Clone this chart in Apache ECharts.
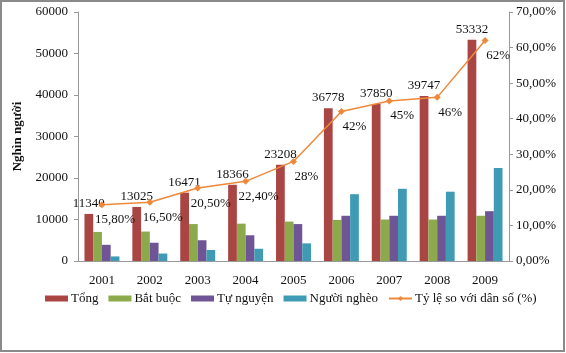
<!DOCTYPE html>
<html>
<head>
<meta charset="utf-8">
<script src="https://cdn.jsdelivr.net/npm/echarts@6/dist/echarts.min.js"></script>
<style>
html,body{margin:0;padding:0;background:#fff;}
#chart{width:566px;height:353px;}
</style>
</head>
<body>
<div id="chart"></div>
<script>
// năm
var years = ['2001','2002','2003','2004','2005','2006','2007','2008','2009'];
// số người tham gia (nghìn người)
var tong = [11340,13025,16471,18366,23208,36778,37850,39747,53332];
var batBuoc = [7000,7100,8900,9000,9500,9900,10000,10000,10900];
var tuNguyen = [3900,4400,5000,6200,8900,10900,10900,10900,12000];
var nguoiNgheo = [1100,1800,2650,2950,4250,16100,17400,16700,22400];
// tỷ lệ so với dân số (%)
var tyLe = [15.8,16.5,20.5,22.4,28,42,45,46,62];
var tyLeText = ['15,80%','16,50%','20,50%','22,40%','28%','42%','45%','46%','62%'];

var font = 'Liberation Serif';

function barSerie(name, data, color){
	return {
		name: name,
		type: 'bar',
		yAxisIndex: 0,
		data: data,
		barGap: '0%',
		barCategoryGap: '27%',
		itemStyle: {color: color}
	};
}

var series = [
	barSerie('Tổng', tong, '#A94543'),
	barSerie('Bắt buộc', batBuoc, '#8CAA4C'),
	barSerie('Tự nguyện', tuNguyen, '#6F5596'),
	barSerie('Người nghèo', nguoiNgheo, '#3F9BB4'),
	{
		name: 'Tỷ lệ so với dân số (%)',
		type: 'line',
		yAxisIndex: 1,
		data: tyLe,
		symbol: 'diamond',
		symbolSize: 7,
		z: 5,
		lineStyle: {color: '#F0883A', width: 1.5},
		itemStyle: {color: '#F0883A'},
		label: {
			show: true,
			position: 'bottom',
			distance: 5,
			offset: [13, 0],
			fontFamily: font, fontSize: 13, color: '#111',
			formatter: function(p){ return tyLeText[p.dataIndex]; }
		}
	}
];
series[0].label = {show: true, position: 'top', distance: 4, fontFamily: font, fontSize: 13, color: '#111'};

var myChart = echarts.init(document.getElementById('chart'));
myChart.setOption({
	backgroundColor: '#fff',
	animation: false,
	grid: {left: 78, right: 57, top: 12, bottom: 92},
	graphic: [{
		type: 'rect',
		shape: {x: 1, y: 1, width: 563, height: 350},
		style: {fill: 'none', stroke: '#8a8a8a', lineWidth: 2}
	}],
	legend: {
		bottom: 43,
		left: 40,
		itemGap: 10,
		itemWidth: 23,
		itemHeight: 6,
		textStyle: {fontFamily: font, fontSize: 13, color: '#111', padding: [0, 0, 0, -2]},
		data: [
			{name: 'Tổng', icon: 'rect'},
			{name: 'Bắt buộc', icon: 'rect'},
			{name: 'Tự nguyện', icon: 'rect'},
			{name: 'Người nghèo', icon: 'rect'},
			{name: 'Tỷ lệ so với dân số (%)'}
		]
	},
	xAxis: {
		type: 'category',
		data: years,
		axisLine: {lineStyle: {color: '#999'}},
		axisTick: {show: false},
		axisLabel: {fontFamily: font, fontSize: 13, color: '#111', margin: 13}
	},
	yAxis: [{
		type: 'value',
		min: 0, max: 60000, interval: 10000,
		name: 'Nghìn người',
		nameLocation: 'middle',
		nameGap: 46,
		nameTextStyle: {fontFamily: font, fontSize: 13, fontWeight: 'bold', color: '#111'},
		axisLine: {show: true, lineStyle: {color: '#999'}},
		axisTick: {show: true, length: 4, lineStyle: {color: '#999'}},
		splitLine: {show: false},
		axisLabel: {
			fontFamily: font, fontSize: 13, color: '#111', margin: 10,
			formatter: function(v){ return String(v); }
		}
	}, {
		type: 'value',
		min: 0, max: 70, interval: 10,
		position: 'right',
		axisLine: {show: true, lineStyle: {color: '#999'}},
		axisTick: {show: true, length: 4, lineStyle: {color: '#999'}},
		splitLine: {show: false},
		axisLabel: {
			fontFamily: font, fontSize: 13, color: '#111', margin: 7,
			formatter: function(v){ return v.toFixed(2).replace('.', ',') + '%'; }
		}
	}],
	series: series
});
</script>
</body>
</html>
